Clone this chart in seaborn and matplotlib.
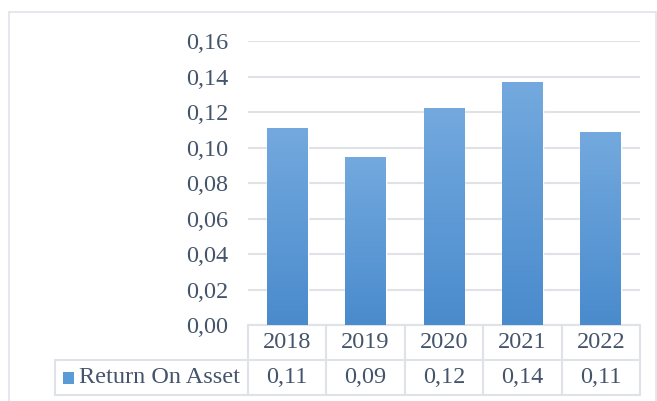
import numpy as np
import pandas as pd
import seaborn as sns
import matplotlib.pyplot as plt
from matplotlib.transforms import blended_transform_factory
from matplotlib.colors import LinearSegmentedColormap
from matplotlib.patches import Rectangle

# Chart values
years = ['2018', '2019', '2020', '2021', '2022']
roa = [0.111, 0.0946, 0.122, 0.137, 0.109]
roa_labels = ['0,11', '0,09', '0,12', '0,14', '0,11']
series_name = 'Return On Asset'
yticks = [0.00, 0.02, 0.04, 0.06, 0.08, 0.10, 0.12, 0.14, 0.16]

df = pd.DataFrame({'year': years, 'roa': roa})

sns.set_style('white')
plt.rcParams['font.family'] = ['Liberation Serif', 'DejaVu Serif']

text_col = '#44546a'
line_col = '#dfe3e8'
fs = 17.5
W, H = 657, 401

fig = plt.figure(figsize=(W / 100, H / 100), dpi=100)
ax = fig.add_axes([248 / W, 1 - 325 / H, (640 - 248) / W, (325 - 41) / H])

sns.barplot(data=df, x='year', y='roa', color='#5b9bd5', width=0.52, ax=ax, saturation=1)

# vertical gradient on each bar
grad = LinearSegmentedColormap.from_list('g', ['#4a8bcd', '#73a9de'])
for bar in ax.patches:
    x0, y0 = bar.get_x(), bar.get_y()
    w, h = bar.get_width(), bar.get_height()
    im = ax.imshow(np.linspace(0, 1, 100).reshape(-1, 1), cmap=grad, aspect='auto',
                   origin='lower', extent=[x0, x0 + w, y0, y0 + h], zorder=3)
    im.set_clip_path(bar)

ax.set_xlim(-0.5, 4.5)
ax.set_ylim(0, 0.16)
ax.set_yticks(yticks)
ax.set_yticklabels([f'{v:.2f}'.replace('.', ',') for v in yticks])
ax.tick_params(axis='y', length=0, pad=14, labelsize=fs, labelcolor=text_col)
ax.set_xticks([])
ax.set_xlabel('')
ax.set_ylabel('')
ax.yaxis.grid(True, color=line_col, linewidth=1.5)
ax.set_axisbelow(True)
sns.despine(ax=ax, left=True, bottom=True)

# data table under the axes
tr = blended_transform_factory(ax.transData, ax.transAxes)
row_h = 35 / 284
lkw = dict(color=line_col, linewidth=1.5, transform=tr, clip_on=False)
akw = dict(color=line_col, linewidth=1.5, transform=ax.transAxes, clip_on=False)
for i in range(3):
    ax.plot([-0.5, 4.5], [-i * row_h, -i * row_h], **lkw)
for k in range(6):
    xb = k - 0.5
    ax.plot([xb, xb], [0, -2 * row_h], **lkw)
left_edge = (55 - 248) / 392
ax.plot([left_edge, 0], [-row_h, -row_h], **akw)
ax.plot([left_edge, 0], [-2 * row_h, -2 * row_h], **akw)
ax.plot([left_edge, left_edge], [-row_h, -2 * row_h], **akw)

for i, (yr, lab) in enumerate(zip(years, roa_labels)):
    ax.text(i, -0.5 * row_h, yr, transform=tr, ha='center', va='center',
            fontsize=fs, color=text_col)
    ax.text(i, -1.5 * row_h, lab, transform=tr, ha='center', va='center',
            fontsize=fs, color=text_col)

# legend key inside the table row
ax.add_patch(Rectangle((63 / W, 1 - 384 / H), 11 / W, 12 / H, transform=fig.transFigure,
                       facecolor='#5b9bd5', edgecolor='none', clip_on=False))
fig.text(79 / W, 1 - 377.5 / H, series_name, ha='left', va='center', fontsize=fs,
         color=text_col)

# outer chart frame
fig.add_artist(Rectangle((9 / W, -0.05), (656 - 9) / W, 1.05 - 12 / H,
                         transform=fig.transFigure, facecolor='none',
                         edgecolor=line_col, linewidth=1.2))

fig.savefig('out.png', dpi=100)
